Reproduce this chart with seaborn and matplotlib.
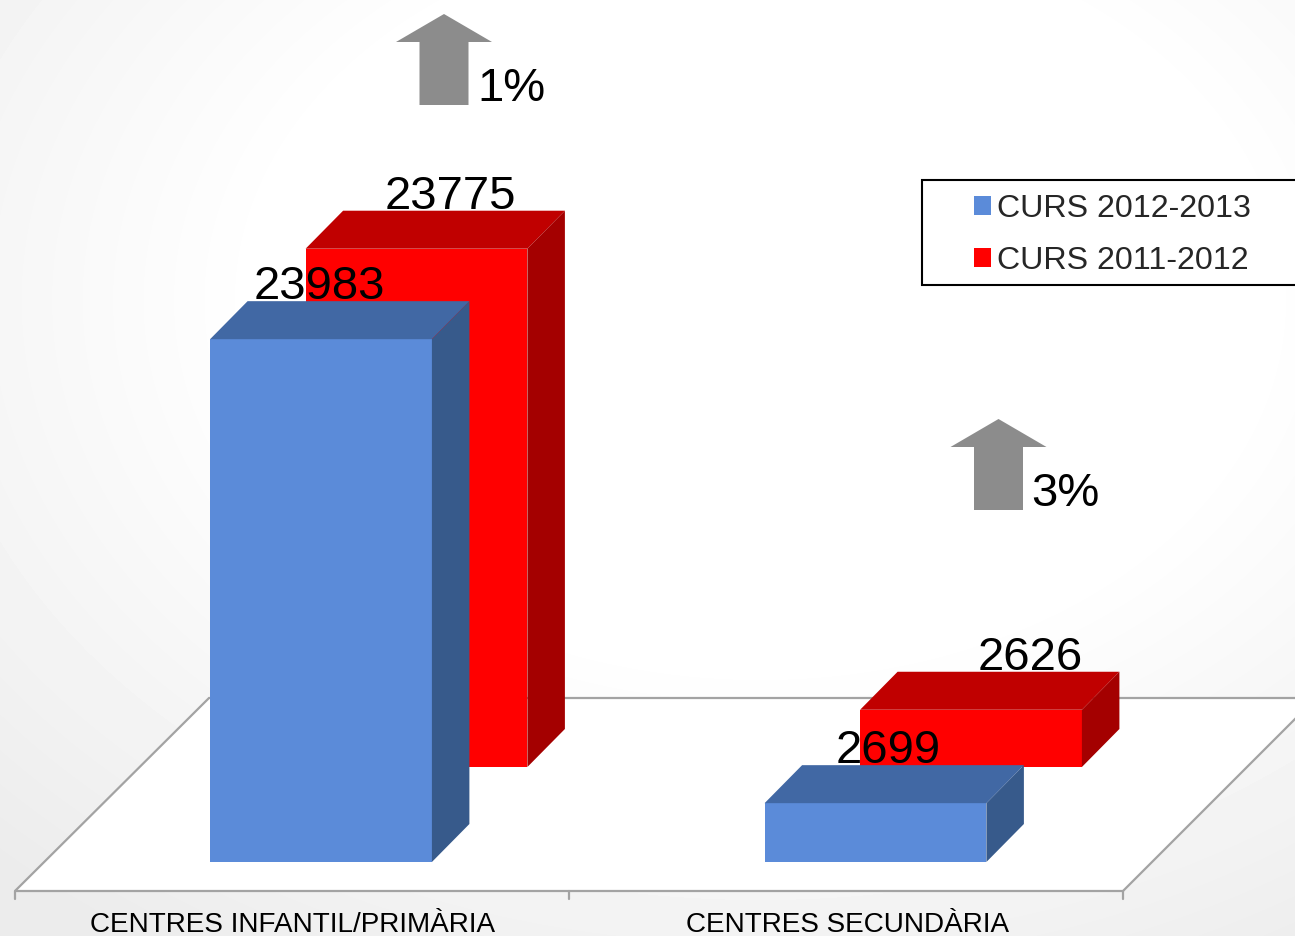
import numpy as np
import pandas as pd
import matplotlib
matplotlib.use('Agg')
import matplotlib.pyplot as plt
import seaborn as sns
from matplotlib.patches import Polygon, Rectangle, Patch

# Dades
centres = ['CENTRES INFANTIL/PRIMÀRIA', 'CENTRES SECUNDÀRIA']
cursos = ['CURS 2012-2013', 'CURS 2011-2012']
alumnes_2012 = [23983, 2699]
alumnes_2011 = [23775, 2626]
pujada = ['1%', '3%']

# Colors: cara frontal, superior i lateral
front = {'CURS 2012-2013': '#5b8bd9', 'CURS 2011-2012': '#ff0000'}
top = {'CURS 2012-2013': '#4168a4', 'CURS 2011-2012': '#c00000'}
side = {'CURS 2012-2013': '#375a8b', 'CURS 2011-2012': '#a40000'}

# Mides en píxels
W, H = 1295, 936
PX_CAT = 554.5      # px per categoria
PX_VAL = 0.0218     # px per alumne
X0 = 321            # centre de la primera categoria
Y0 = 862            # base de les barres (des de dalt)
DEPTH = (37.5, 38)  # profunditat 3D
SHIFT = [(0, 0), (95.5, 95)]          # la segona sèrie va darrere
LABEL_NUDGE = [[-2, 13], [34, 59]]    # ajust horitzontal de les etiquetes

sns.set_style('white')
plt.rcParams['font.family'] = ['Liberation Sans', 'DejaVu Sans']

fig = plt.figure(figsize=(W / 100, H / 100), dpi=100)

# Fons (coordenades en píxels)
bg = fig.add_axes([0, 0, 1, 1])
bg.set_xlim(0, W)
bg.set_ylim(H, 0)
bg.axis('off')
yy, xx = np.mgrid[0:H, 0:W]
r = np.hypot((xx - 760) / 900.0, (yy - 300) / 650.0)
shade = 1 - 0.075 * np.clip((r - 0.55) / 0.65, 0, 1)
bg.imshow(shade, cmap='gray', vmin=0, vmax=1, extent=(0, W, H, 0),
          aspect='auto', zorder=0, interpolation='bilinear')

# Terra
fl, fr, fy, fd = 15, 1123, 891, 193
bg.add_patch(Polygon([(fl, fy), (fr, fy), (fr + fd, fy - fd), (fl + fd + 1, fy - fd)],
                     closed=True, facecolor='white', edgecolor='#a3a3a3', lw=1.6, zorder=1))
for i in range(len(centres) + 1):
    tx = fl + i * (fr - fl) / len(centres)
    bg.plot([tx, tx], [fy, fy + 8], color='#a3a3a3', lw=1.6, zorder=1)
for i, c in enumerate(centres):
    bg.text(X0 + i * PX_CAT - 28, 932, c, ha='center', va='baseline', fontsize=20.1, color='black')

# Fletxes
def fletxa(cx, ty, text):
    pts = [(cx, ty), (cx + 48, ty + 28), (cx + 24.5, ty + 28), (cx + 24.5, ty + 91),
           (cx - 24.5, ty + 91), (cx - 24.5, ty + 28), (cx - 48, ty + 28)]
    bg.add_patch(Polygon(pts, closed=True, facecolor='#8c8c8c', edgecolor='none', zorder=5))
    bg.text(cx + 33, ty + 87, text, ha='left', va='baseline', fontsize=34, color='black', zorder=6)

arrow_tops = [14, 419]
for i, t in enumerate(pujada):
    fletxa(X0 + i * PX_CAT + 123, arrow_tops[i], t)

# Barres
df = pd.DataFrame({
    'centre': centres * 2,
    'curs': [cursos[0]] * 2 + [cursos[1]] * 2,
    'alumnes': alumnes_2012 + alumnes_2011,
})

ax = fig.add_axes([0, 0, 1, 1])
ax.patch.set_alpha(0)
sns.barplot(data=df, x='centre', y='alumnes', hue='curs', hue_order=cursos,
            palette=front, dodge=False, width=0.4, saturation=1, errorbar=None,
            legend=False, linewidth=0, ax=ax)

ddx = DEPTH[0] / PX_CAT
ddy = DEPTH[1] / PX_VAL
for k, cont in enumerate(ax.containers):
    curs = cursos[k]
    z = 4 if k == 0 else 2
    sx, sy = SHIFT[k][0] / PX_CAT, SHIFT[k][1] / PX_VAL
    for j, p in enumerate(cont.patches):
        p.set_x(p.get_x() + sx)
        p.set_y(p.get_y() + sy)
        p.set_zorder(z)
        x0 = p.get_x()
        x1 = x0 + p.get_width()
        yb = p.get_y()
        yt = yb + p.get_height()
        ax.add_patch(Polygon([(x0, yt), (x1, yt), (x1 + ddx, yt + ddy), (x0 + ddx, yt + ddy)],
                             closed=True, facecolor=top[curs], edgecolor='none', zorder=z))
        ax.add_patch(Polygon([(x1, yb), (x1 + ddx, yb + ddy), (x1 + ddx, yt + ddy), (x1, yt)],
                             closed=True, facecolor=side[curs], edgecolor='none', zorder=z))
        val = int(round(p.get_height()))
        ax.text((x0 + x1) / 2 + LABEL_NUDGE[k][j] / PX_CAT, yt + ddy + 2 / PX_VAL, str(val),
                ha='center', va='baseline', fontsize=34, color='black', zorder=10)

ax.set_xlim(-X0 / PX_CAT, (W - X0) / PX_CAT)
ax.set_ylim((Y0 - H) / PX_VAL, Y0 / PX_VAL)
ax.axis('off')

# Llegenda
bg.add_patch(Rectangle((922, 180), 400, 105, facecolor='white', edgecolor='black', lw=1.5, zorder=7))
handles = [Patch(facecolor=front[c], edgecolor='none') for c in cursos]
leg = ax.legend(handles, cursos, loc='center left', bbox_to_anchor=(974 / W, 1 - 235 / H),
                bbox_transform=fig.transFigure, frameon=False, fontsize=23.1,
                handlelength=0.53, handleheight=0.53, handletextpad=0.2,
                labelspacing=0.68, borderpad=0, borderaxespad=0)
leg.set_zorder(11)

fig.savefig('out.png', dpi=100)
